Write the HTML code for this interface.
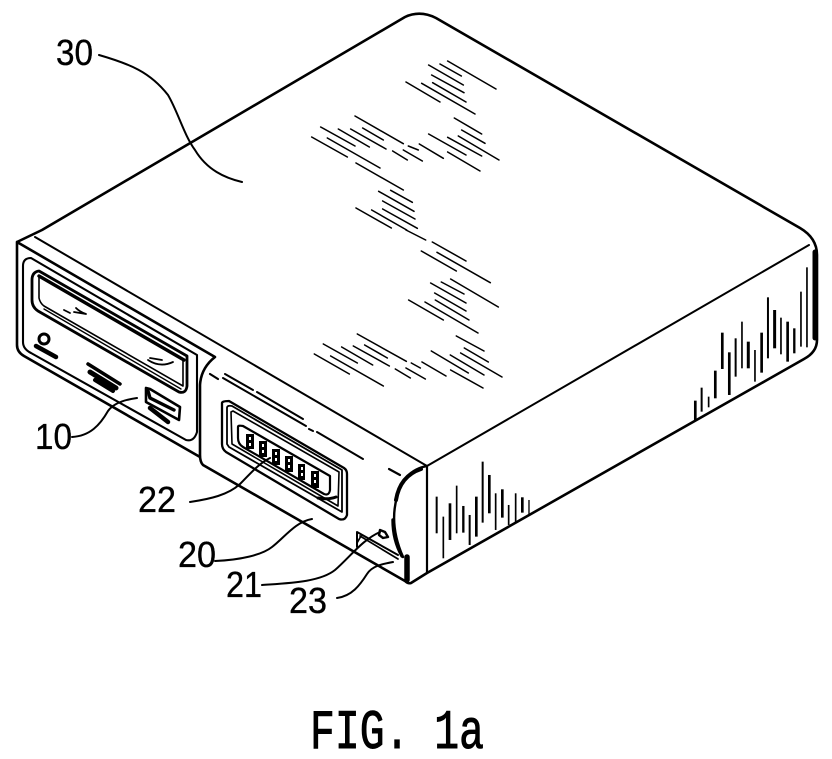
<!DOCTYPE html>
<html>
<head>
<meta charset="utf-8">
<style>
html,body{margin:0;padding:0;background:#fff;width:832px;height:759px;overflow:hidden}
svg{display:block}
text{fill:#000;stroke:#000;stroke-width:.35px;font-family:"Liberation Sans",sans-serif;font-size:36px}
.f{fill:none;stroke:#000;stroke-linecap:round;stroke-linejoin:round}
</style>
</head>
<body>
<svg width="832" height="759" viewBox="0 0 832 759" xmlns="http://www.w3.org/2000/svg">
<!-- main outline -->
<g class="f" stroke-width="2.6">
<path d="M17 242 L42 230 L405 17 Q420 10 436 18 L800 228 Q817 238 817 255 L817 340 Q817 352 804 359 L427 573 L411 583 Q408 584 405 581 L203 465 Q200 462 200 455 L200 385 Q201 368 215 357 L17 242 L17 345 Q17 352 24 356 L200 457"/>
<path d="M35 237 L427 466 L809 245" stroke-width="2"/>
<path d="M427 466 L427 572" stroke-width="2.2"/>
<path d="M427 466 Q404 470 397 497 Q389 525 403 557" stroke-width="2.4"/>
<path d="M421 469 Q400 476 396 500" stroke-width="4"/>
<path d="M393 520 Q393 540 402 556" stroke-width="3.4"/>
<path d="M407 557 L407 580" stroke-width="5.5"/>
<path d="M815 252 L815 338" stroke-width="5"/>
</g>
<!-- front panel 10 -->
<g class="f" stroke-width="2.1">
<path d="M23 266 Q23 258 31 258 L197 355 L197 432 Q194 442 186 440 L31 353 Q23 349 23 342 Z"/>
<path d="M32 280 Q32 272 39 271 L187 356 L187 386 Q186 394 179 392 L38 311 Q32 307 32 300 Z" stroke-width="2.8"/>
<path d="M39 276 L39 298 Q40 303 44 306 L183 386 L183 360" stroke-width="1.6"/>
<path d="M39 276 L184 360" stroke-width="3.4"/>
<path d="M44 309 L181 389" stroke-width="1.4"/>
<path d="M64 310 L70 313 M74 312 L86 314 Q80 312 76 308" stroke-width="1.8"/>
<path d="M148 360 Q160 368 173 362 M150 358 L162 360" stroke-width="1.8"/>
<circle cx="44" cy="339" r="5" stroke-width="3"/>
<path d="M36 346 L56 357" stroke-width="4.5"/>
<path d="M88 364 L120 384" stroke-width="3.5"/>
<path d="M90 372 L116 388" stroke-width="5"/>
<path d="M95 380 L113 391" stroke-width="4"/>
<path d="M146 388 L146 402 L179 420 L180 407 L150 389 Z" stroke-width="2.6"/>
<path d="M148 391 L150 398 L174 410" stroke-width="3.4"/>
<path d="M150 408 L168 422" stroke-width="4.5"/>
</g>
<!-- panel 20 -->
<g class="f" stroke-width="1.8">
<path d="M210 374 L218 379" stroke-width="2.2"/>
<path d="M225 374 L253 390 M257 392 L303 419 M309 429 L313 431 M317 432 L363 459" stroke-width="2"/>
<path d="M223 378 L306 426" stroke-width="2"/>
<path d="M389 469 L400 475" stroke-width="2.2"/>
<path d="M222 403 Q222 401 229 401 L344 468 Q347 470 347 474 L347 515 Q345 521 339 519 L226 452 Q222 449 222 444 Z" stroke-width="2.3"/>
<path d="M227 408 Q227 405 232 406 L342 470 L342 512 L229 447 L227 444 Z" stroke-width="1.8"/>
<path d="M231 412 L232 444 L338 506 L339 472 L233 411 Z" stroke-width="1.6"/>
<path d="M238 427 Q238 425 243 426 L330 476 L330 490 Q329 496 324 494 L243 447 Q238 444 238 438 Z" stroke-width="2.2"/>
<path d="M318 498 Q328 500 336 497" stroke-width="3"/>
</g>
<g fill="#000">
<rect x="246" y="434" width="8" height="15"/><rect x="249" y="437" width="2" height="3" fill="#fff"/><rect x="249" y="443" width="2" height="3" fill="#fff"/>
<rect x="259" y="441" width="8" height="16"/><rect x="262" y="444" width="2" height="3" fill="#fff"/><rect x="262" y="450" width="2" height="3" fill="#fff"/>
<rect x="272" y="449" width="8" height="16"/><rect x="275" y="452" width="2" height="3" fill="#fff"/><rect x="275" y="458" width="2" height="3" fill="#fff"/>
<rect x="285" y="456" width="8" height="16"/><rect x="288" y="459" width="2" height="3" fill="#fff"/><rect x="288" y="465" width="2" height="3" fill="#fff"/>
<rect x="298" y="464" width="7" height="16"/><rect x="301" y="467" width="2" height="3" fill="#fff"/><rect x="301" y="473" width="2" height="3" fill="#fff"/>
<rect x="311" y="471" width="8" height="17"/><rect x="314" y="474" width="2" height="3" fill="#fff"/><rect x="314" y="480" width="2" height="3" fill="#fff"/>
</g>
<!-- slot 21/23 -->
<g class="f" stroke-width="2">
<path d="M357 547 L357 532 L398 555"/>
<path d="M361 536 L357 543 M360 536 L398 559" stroke-width="1.7"/>
<path d="M380 530 L385 532 L388 537 L383 538 L379 535 Z" stroke-width="2.4"/>
</g>
<!-- top hatching -->
<g class="f" stroke-width="4.6" transform="translate(300 50) scale(.3333)">
<path d="M443 33L588 117M420 42L484 78M386 45L490 105M395 75L492 128M398 98L498 156M365 100L525 192M318 96L420 156M463 204L545 252M485 240L555 280M475 258L597 330M443 262L545 318M386 252L498 315M443 306L540 363M358 282L430 325M325 288L355 300M310 300L367 333M278 303L322 330M165 198L310 281M188 234L250 270M152 237L258 297M115 237L208 291M62 231L165 288M82 264L240 354M35 261L142 321M168 339L310 420M272 421L337 457M236 424L342 484M248 453L345 507M248 477L352 535M215 480L320 540M168 474L274 534"/>
</g>
<g class="f" stroke-width="4.6" transform="translate(300 230) scale(.3333)">
<path d="M318 0L377 30M397 36L498 93M364 63L469 123M411 67L571 158M452 147L595 231M424 156L492 192M392 159L498 219M404 189L498 243M406 210L507 270M375 216L534 309M326 210L430 270M469 318L552 363M493 354L565 396M482 369L606 441M451 375L552 435M394 363L505 429M452 420L549 474M366 396L438 438M334 399L361 414M318 414L376 447M286 417L331 444M172 312L319 394M194 345L262 384M160 348L268 408M125 351L218 405M70 342L172 399M92 378L250 468M43 372L148 432"/>
</g>
<!-- side hatching -->
<g transform="translate(400 220) scale(.3333)" stroke="#000" fill="none">
<path stroke-width="6" d="M110 830V940"/><path stroke-width="5" d="M130 890V1015"/><path stroke-width="8" d="M150 850V960"/><path stroke-width="5" d="M170 797V940"/><path stroke-width="7" d="M190 858V938"/><path stroke-width="6" d="M209 885V975"/><path stroke-width="8" d="M229 830V950"/><path stroke-width="6" d="M248 725V908"/><path stroke-width="8" d="M268 765V880"/><path stroke-width="5" d="M287 820V930"/><path stroke-width="8" d="M307 808V893"/><path stroke-width="5" d="M326 855V915"/><path stroke-width="5" d="M347 820V908"/><path stroke-width="8" d="M367 832V878"/><path stroke-width="4" d="M387 840V885"/>
<path stroke-width="8" d="M886 542V600"/><path stroke-width="6" d="M905 503V575"/><path stroke-width="5" d="M926 530V562"/><path stroke-width="8" d="M946 452V535"/><path stroke-width="8" d="M967 338V447"/><path stroke-width="8" d="M988 397V525"/><path stroke-width="6" d="M1007 355V470"/><path stroke-width="5" d="M1026 305V445"/><path stroke-width="9" d="M1045 365V445"/><path stroke-width="5" d="M1065 390V485"/><path stroke-width="8" d="M1085 338V458"/><path stroke-width="6" d="M1104 232V415"/><path stroke-width="9" d="M1124 270V385"/><path stroke-width="5" d="M1143 293V403"/><path stroke-width="8" d="M1163 305V425"/><path stroke-width="7" d="M1183 325V400"/><path stroke-width="5" d="M1203 215V380"/><path stroke-width="5" d="M1221 142V382"/>
</g>
<!-- leaders -->
<g class="f" stroke-width="2">
<path d="M99 55 C130 64 150 72 168 95 C178 112 184 135 195 150 C207 170 225 178 242 182"/>
<path d="M72 437 C90 436 100 425 108 411 C113 404 122 400 137 398"/>
<path d="M190 502 C210 499 228 495 240 484 C250 474 258 464 270 458"/>
<path d="M215 561 C240 560 262 555 272 547 C285 537 295 522 312 519"/>
<path d="M262 585 C290 583 320 582 335 570 C350 557 362 540 380 532"/>
<path d="M337 598 C352 596 360 585 367 574 C372 566 382 564 393 562"/>
</g>
<!-- labels -->
<text x="56" y="65" textLength="37" lengthAdjust="spacingAndGlyphs">30</text>
<text x="35" y="449" textLength="37" lengthAdjust="spacingAndGlyphs">10</text>
<text x="138" y="512" textLength="38" lengthAdjust="spacingAndGlyphs">22</text>
<text x="178" y="567" textLength="38" lengthAdjust="spacingAndGlyphs">20</text>
<text x="226" y="597" textLength="36" lengthAdjust="spacingAndGlyphs">21</text>
<text x="289" y="613" textLength="38" lengthAdjust="spacingAndGlyphs">23</text>
<g transform="translate(310 748) scale(1 1.36)">
<text x="0" y="0" textLength="174" lengthAdjust="spacingAndGlyphs" style="font-family:'Liberation Mono',monospace;font-size:41px;stroke-width:.7px">FIG. 1a</text>
</g>
</svg>
</body>
</html>
